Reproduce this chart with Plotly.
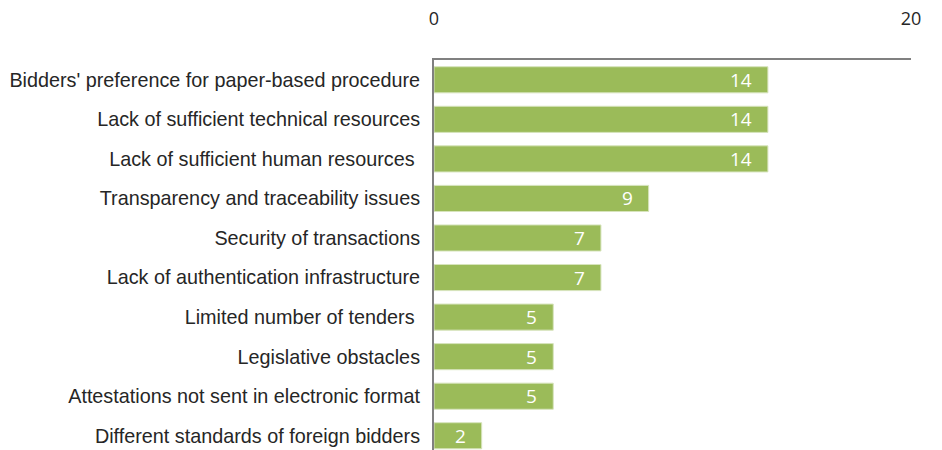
import plotly.graph_objects as go

# Reported obstacles to e-procurement, number of responses
categories = [
    "Bidders' preference for paper-based procedure",
    "Lack of sufficient technical resources",
    "Lack of sufficient human resources ",
    "Transparency and traceability issues",
    "Security of transactions",
    "Lack of authentication infrastructure",
    "Limited number of tenders ",
    "Legislative obstacles",
    "Attestations not sent in electronic format",
    "Different standards of foreign bidders",
]
counts = [14, 14, 14, 9, 7, 7, 5, 5, 5, 2]
x_ticks = [0, 20]

BAR = "#9BBB59"
AXIS = "#808080"
TEXT = "#262626"
FONT = "Liberation Sans, Arial, sans-serif"
NUM_FONT = "Open Sans, sans-serif"

fig = go.Figure(
    go.Bar(
        x=counts,
        y=categories,
        orientation="h",
        width=0.66,
        marker=dict(color=BAR, line=dict(color="#D7E4BD", width=1)),
        hoverinfo="x+y",
    )
)

# value labels placed just inside the end of each bar
for cat, v in zip(categories, counts):
    fig.add_annotation(
        x=v, y=cat, text=str(v), showarrow=False,
        xanchor="right", xshift=-14,
        font=dict(family=NUM_FONT, size=19, color="white"),
    )

fig.update_layout(
    width=942, height=450,
    margin=dict(l=434, r=31, t=60, b=0),
    paper_bgcolor="white", plot_bgcolor="white",
    showlegend=False,
    font=dict(family=FONT, size=19.8, color=TEXT),
    bargap=0.34,
)
fig.update_xaxes(
    side="top", range=[0, 20], tickvals=x_ticks, ticktext=[str(t) for t in x_ticks],
    showgrid=False, zeroline=False, showline=True, linecolor=AXIS, linewidth=2,
    ticks="", ticklabelstandoff=26, tickfont=dict(family=NUM_FONT, size=18, color=TEXT),
)
fig.update_yaxes(
    categoryorder="array", categoryarray=categories,
    range=[len(categories) - 0.64, -0.5],
    showgrid=False, zeroline=False, showline=True, linecolor=AXIS, linewidth=2,
    ticks="", ticklabelstandoff=8, tickfont=dict(size=19.8, color=TEXT),
)

fig.write_html("out.html")
